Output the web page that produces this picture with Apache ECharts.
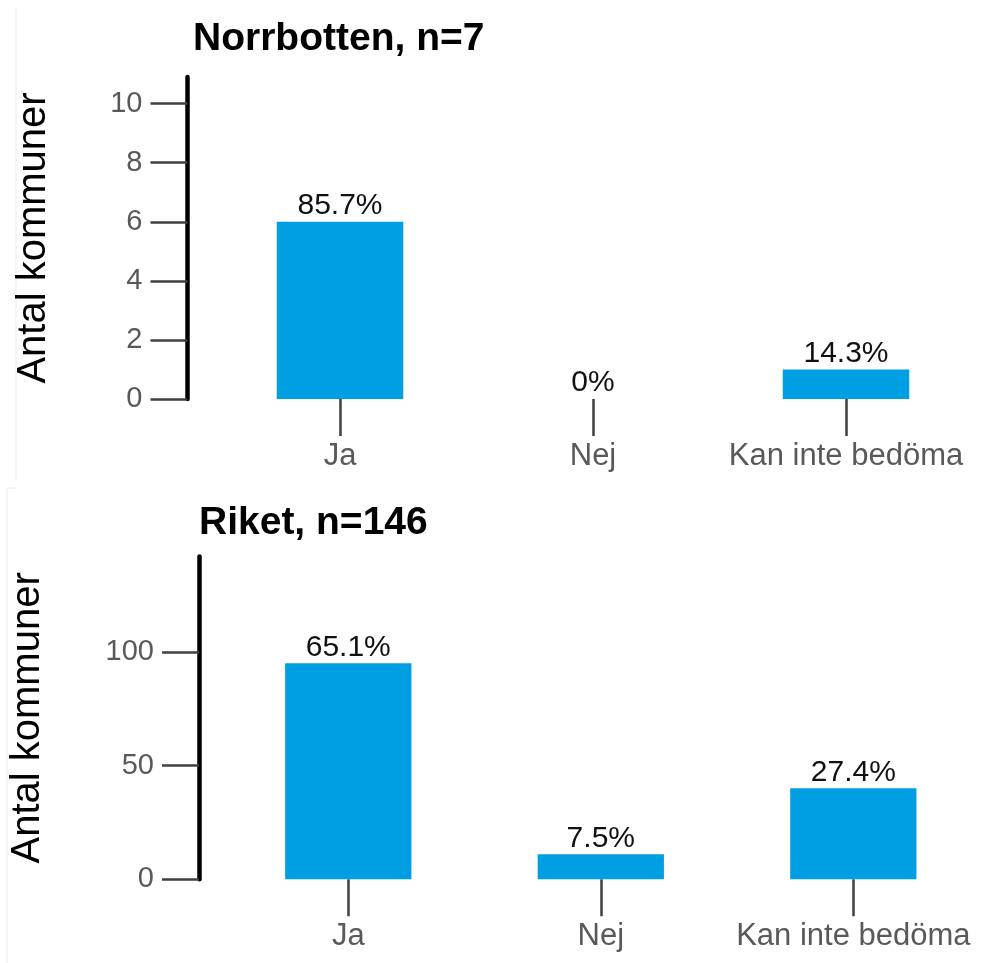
<!DOCTYPE html>
<html>
<head>
<meta charset="utf-8">
<script src="https://cdn.jsdelivr.net/npm/echarts@6/dist/echarts.min.js"></script>
<style>
html,body{margin:0;padding:0;background:#fff;}
#main{width:995px;height:963px;}
</style>
</head>
<body>
<div id="main"></div>
<script>
const categories = ['Ja', 'Nej', 'Kan inte bedöma'];
const norrbottenValues = [6, 0, 1];
const norrbottenLabels = ['85.7%', '0%', '14.3%'];
const riketValues = [95, 11, 40];
const riketLabels = ['65.1%', '7.5%', '27.4%'];
const norrbottenTicks = [0, 2, 4, 6, 8, 10];
const riketTicks = [0, 50, 100];
const titles = ['Norrbotten, n=7', 'Riket, n=146'];
const yAxisTitle = 'Antal kommuner';

const FONT = '"Liberation Sans", Arial, sans-serif';
const BAR = '#009FE3';

function yAxis(gridIndex, max, ticks, offset, gap) {
  return {
    type: 'value', gridIndex, min: 0, max, offset,
    name: yAxisTitle, nameLocation: 'middle', nameRotate: 90, nameGap: gap,
    nameTextStyle: {fontFamily: FONT, fontSize: 40, color: '#000'},
    splitLine: {show: false},
    axisLine: {show: true, lineStyle: {color: '#000', width: 4.5}},
    axisTick: {show: true, length: 37, customValues: ticks, lineStyle: {color: '#404040', width: 2.5}},
    axisLabel: {margin: 45, customValues: ticks, fontFamily: FONT, fontSize: 29, color: '#595959'}
  };
}
function xAxis(gridIndex) {
  return {
    type: 'category', gridIndex, data: categories,
    axisLine: {show: false},
    axisTick: {show: true, interval: 0, alignWithLabel: true, length: 37, lineStyle: {color: '#404040', width: 2.5}},
    axisLabel: {interval: 0, margin: 42, fontFamily: FONT, fontSize: 31, color: '#595959'}
  };
}
function series(idx, values, labels) {
  return {
    type: 'bar', xAxisIndex: idx, yAxisIndex: idx, data: values, barWidth: '50%',
    itemStyle: {color: BAR},
    label: {show: true, position: 'top', distance: 1, fontFamily: FONT, fontSize: 30, color: '#111',
      formatter: p => labels[p.dataIndex]}
  };
}

const chart = echarts.init(document.getElementById('main'), null, {renderer: 'canvas'});
chart.setOption({
  animation: false,
  backgroundColor: '#fff',
  title: [
    {text: titles[0], left: 188, top: 15, textStyle: {fontFamily: FONT, fontSize: 39, fontWeight: 'bold', color: '#000'}},
    {text: titles[1], left: 194, top: 499, textStyle: {fontFamily: FONT, fontSize: 39, fontWeight: 'bold', color: '#000'}}
  ],
  grid: [
    {left: 213.5, right: 22.5, top: 77, bottom: 564},
    {left: 219.5, right: 15.4, top: 556.5, bottom: 83.7}
  ],
  xAxis: [xAxis(0), xAxis(1)],
  yAxis: [yAxis(0, 10.9, norrbottenTicks, 26, 134), yAxis(1, 142, riketTicks, 23, 151)],
  series: [series(0, norrbottenValues, norrbottenLabels), series(1, riketValues, riketLabels)],
  graphic: [
    {type: 'line', shape: {x1: 16, y1: 8, x2: 16, y2: 480}, style: {stroke: '#ececec', lineWidth: 1}},
    {type: 'line', shape: {x1: 7, y1: 488, x2: 16, y2: 488}, style: {stroke: '#ececec', lineWidth: 1}},
    {type: 'line', shape: {x1: 7, y1: 488, x2: 7, y2: 963}, style: {stroke: '#ececec', lineWidth: 1}}
  ]
});
</script>
</body>
</html>
